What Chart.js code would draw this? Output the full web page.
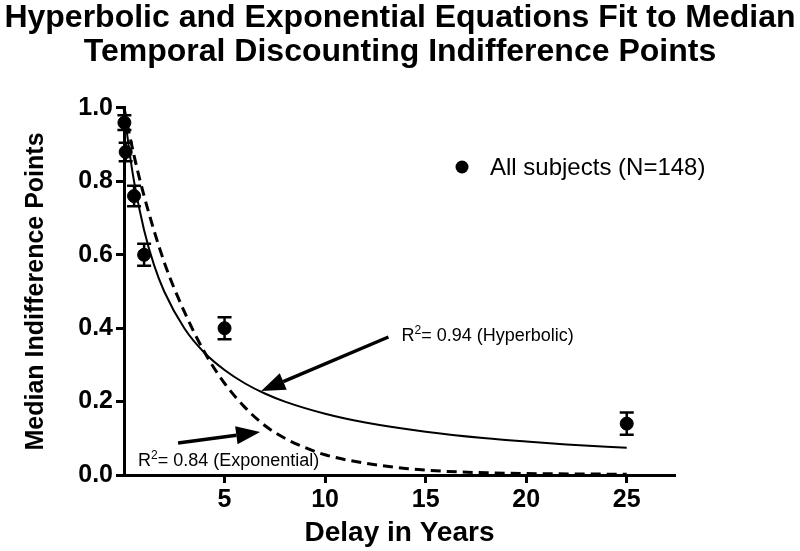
<!DOCTYPE html>
<html><head><meta charset="utf-8">
<script src="https://cdn.jsdelivr.net/npm/chart.js@4.4.1/dist/chart.umd.min.js"></script>
<style>html,body{margin:0;padding:0;background:#fff}</style>
</head><body>
<div style="width:800px;height:551px;position:relative"><canvas id="c" width="800" height="551"></canvas></div>
<script>
// ---- data ----
const delays  = [0.02, 0.083, 0.5, 1, 5, 25];          // years
const medians = [0.96, 0.88, 0.76, 0.60, 0.40, 0.14];
const errors  = [0.02, 0.025, 0.028, 0.03, 0.03, 0.03];

const hypX = [0, 0.25, 0.5, 1, 1.5, 2, 3, 4, 5, 6, 7, 8, 10, 12, 15, 18, 20, 22, 25];
const hypY = [1, 0.889, 0.8, 0.667, 0.571, 0.5, 0.4, 0.333, 0.286, 0.25, 0.222, 0.2, 0.167, 0.143, 0.118, 0.1, 0.091, 0.083, 0.074];

const expX = [0, 0.5, 1, 2, 3, 4, 5, 6, 7, 8, 9, 10, 12, 14, 16, 18, 20, 25];
const expY = [1, 0.87, 0.76, 0.58, 0.445, 0.335, 0.25, 0.185, 0.135, 0.1, 0.075, 0.055, 0.032, 0.018, 0.01, 0.006, 0.004, 0.002];

const xTicks = [5, 10, 15, 20, 25];
const yTicks = [0, 0.2, 0.4, 0.6, 0.8, 1.0];

const titleLines = ['Hyperbolic and Exponential Equations Fit to Median', 'Temporal Discounting Indifference Points'];
const seriesLabel = 'All subjects (N=148)';
const xTitle = 'Delay in Years';
const yTitle = 'Median Indifference Points';
const hypNote = {r2: '0.94', name: 'Hyperbolic'};
const expNote = {r2: '0.84', name: 'Exponential'};

const FONT = "'Liberation Sans', Arial, Helvetica, sans-serif";

const toXY = (xs, ys) => xs.map((x, i) => ({x, y: ys[i]}));

const errorBars = {
  id: 'errorBars',
  afterDatasetsDraw(chart) {
    const {ctx, scales: {x, y}} = chart;
    ctx.save();
    ctx.strokeStyle = '#000';
    ctx.lineWidth = 2.5;
    delays.forEach((d, i) => {
      const px = x.getPixelForValue(d);
      const top = y.getPixelForValue(medians[i] + errors[i]);
      const bot = y.getPixelForValue(medians[i] - errors[i]);
      ctx.beginPath();
      ctx.moveTo(px, top); ctx.lineTo(px, bot);
      ctx.moveTo(px - 7, top); ctx.lineTo(px + 7, top);
      ctx.moveTo(px - 7, bot); ctx.lineTo(px + 7, bot);
      ctx.stroke();
    });
    ctx.restore();
  }
};

function arrow(ctx, x1, y1, x2, y2) {
  const ang = Math.atan2(y2 - y1, x2 - x1);
  const hl = 24, hw = 9;
  const bx = x2 - hl * Math.cos(ang), by = y2 - hl * Math.sin(ang);
  ctx.beginPath();
  ctx.lineWidth = 3.5;
  ctx.moveTo(x1, y1); ctx.lineTo(bx, by); ctx.stroke();
  ctx.beginPath();
  ctx.moveTo(x2, y2);
  ctx.lineTo(bx + hw * Math.sin(ang), by - hw * Math.cos(ang));
  ctx.lineTo(bx - hw * Math.sin(ang), by + hw * Math.cos(ang));
  ctx.closePath(); ctx.fill();
}

function r2Text(ctx, px, py, note) {
  ctx.textBaseline = 'alphabetic';
  ctx.textAlign = 'left';
  ctx.font = '18px ' + FONT;
  ctx.fillText('R', px, py);
  let w = ctx.measureText('R').width;
  ctx.font = '12px ' + FONT;
  ctx.fillText('2', px + w, py - 7);
  w += ctx.measureText('2').width;
  ctx.font = '18px ' + FONT;
  ctx.fillText('= ' + note.r2 + ' (' + note.name + ')', px + w, py);
}

const notes = {
  id: 'notes',
  afterDraw(chart) {
    const {ctx, scales: {x, y}} = chart;
    ctx.save();
    ctx.fillStyle = '#000'; ctx.strokeStyle = '#000';
    // hyperbolic
    r2Text(ctx, x.getPixelForValue(13.8), y.getPixelForValue(0.366), hypNote);
    arrow(ctx, x.getPixelForValue(13.15), y.getPixelForValue(0.376), x.getPixelForValue(6.82), y.getPixelForValue(0.229));
    // exponential
    r2Text(ctx, x.getPixelForValue(0.7), y.getPixelForValue(0.025), expNote);
    arrow(ctx, x.getPixelForValue(2.69), y.getPixelForValue(0.087), x.getPixelForValue(6.77), y.getPixelForValue(0.117));
    // legend
    const lx = 462, ly = 167;
    ctx.beginPath(); ctx.arc(lx, ly, 6.5, 0, Math.PI * 2); ctx.fill();
    ctx.font = '24px ' + FONT;
    ctx.textBaseline = 'middle';
    ctx.fillText(seriesLabel, 490, ly + 1);
    ctx.restore();
  }
};

new Chart(document.getElementById('c'), {
  type: 'scatter',
  data: {
    datasets: [
      {label: 'Hyperbolic', data: toXY(hypX, hypY), showLine: true, borderColor: '#000', borderWidth: 2,
       pointRadius: 0, cubicInterpolationMode: 'monotone', clip: false},
      {label: 'Exponential', data: toXY(expX, expY), showLine: true, borderColor: '#000', borderWidth: 3,
       borderDash: [10, 6], pointRadius: 0, cubicInterpolationMode: 'monotone', clip: false},
      {label: seriesLabel, data: toXY(delays, medians), pointRadius: 6.5, backgroundColor: '#000',
       borderColor: '#000', pointHoverRadius: 6.5, clip: false}
    ]
  },
  options: {
    responsive: false,
    animation: false,
    events: [],
    layout: {padding: {left: 0, right: 0, top: 0, bottom: 0}},
    plugins: {
      legend: {display: false},
      tooltip: {enabled: false},
      title: {display: true, text: titleLines, color: '#000',
        font: {family: FONT, size: 32, weight: 'bold', lineHeight: 1.07},
        padding: {top: 1, bottom: 38.5}}
    },
    scales: {
      x: {
        type: 'linear', min: 0, max: 27.4,
        afterBuildTicks: s => { s.ticks = xTicks.map(v => ({value: v})); },
        afterFit: s => { s.height = 76; },
        ticks: {color: '#000', font: {family: FONT, size: 25, weight: 'bold'}, padding: 2, callback: v => String(v), maxRotation: 0},
        grid: {drawOnChartArea: false, drawTicks: true, tickLength: 8, tickWidth: 3, tickColor: '#000'},
        border: {display: true, color: '#000', width: 3},
        title: {display: true, text: xTitle, color: '#000', font: {family: FONT, size: 28, weight: 'bold'}, padding: {top: 0, bottom: 1}}
      },
      y: {
        min: 0, max: 1,
        afterBuildTicks: s => { s.ticks = yTicks.map(v => ({value: v})); },
        afterFit: s => { s.width = 124; },
        ticks: {color: '#000', font: {family: FONT, size: 25, weight: 'bold'}, padding: 3, callback: v => v.toFixed(1)},
        grid: {drawOnChartArea: false, drawTicks: true, tickLength: 8, tickWidth: 3, tickColor: '#000'},
        border: {display: true, color: '#000', width: 3},
        title: {display: true, text: yTitle, color: '#000', font: {family: FONT, size: 25, weight: 'bold'}, padding: {top: 21, bottom: 0}}
      },
      yR: {
        position: 'right', display: true, min: 0, max: 1,
        afterFit: s => { s.width = 125; },
        ticks: {display: false},
        grid: {display: false, drawTicks: false},
        border: {display: false}
      }
    }
  },
  plugins: [errorBars, notes]
});
</script>
</body></html>
